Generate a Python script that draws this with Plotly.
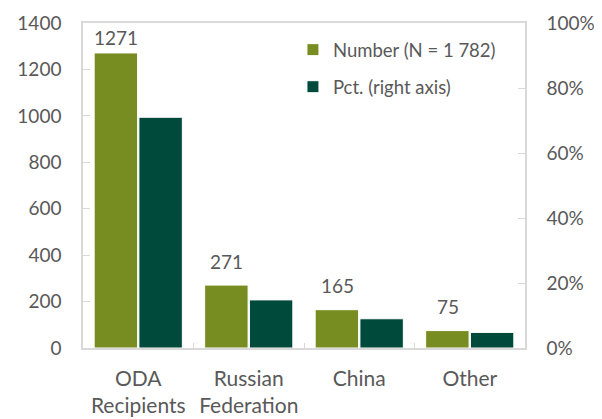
import plotly.graph_objects as go

categories = ["ODA<br>Recipients", "Russian<br>Federation", "China", "Other"]
number = [1271, 271, 165, 75]
pct = [0.71, 0.148, 0.09, 0.048]
number_labels = ["1271", "271", "165", "75"]
label_shift = [15, 24, 24, 24]

OLIVE = "#778c21"
DARK = "#004a3b"
GRID = "#d9d9d9"
TXT = "#595959"
FONT = "Lato, Open Sans, sans-serif"

fig = go.Figure()
fig.add_trace(go.Bar(
    x=categories, y=number, name="Number (N = 1 782)",
    marker=dict(color=OLIVE, line=dict(color="white", width=1)),
    offsetgroup="1", legendgroup="a", yaxis="y",
))
fig.add_trace(go.Bar(
    x=categories, y=pct, name="Pct. (right axis)",
    marker=dict(color=DARK, line=dict(color="white", width=1)),
    offsetgroup="2", legendgroup="b", yaxis="y2",
))

for c, v, t, s in zip(categories, number, number_labels, label_shift):
    fig.add_annotation(x=c, y=v, xref="x", yref="y", text=t, showarrow=False,
                       xshift=-22, yshift=s, font=dict(size=19, color=TXT, family=FONT))

fig.update_layout(
    width=594, height=411,
    margin=dict(l=75, r=77, t=15, b=71, autoexpand=False),
    paper_bgcolor="white", plot_bgcolor="white",
    barmode="group", bargap=0.19, bargroupgap=0.03,
    font=dict(family=FONT, size=19, color=TXT),
    showlegend=True,
    legend=dict(x=0.475, y=0.975, xanchor="left", yanchor="top",
                font=dict(size=18.5, color=TXT, family=FONT),
                traceorder="grouped", tracegroupgap=10,
                bgcolor="rgba(0,0,0,0)", itemwidth=30),
    xaxis=dict(showline=True, linecolor=GRID, linewidth=1.5, mirror=True,
               ticks="inside", tickson="boundaries", ticklen=5, tickcolor=GRID,
               ticklabelstandoff=11,
               tickfont=dict(size=21, color=TXT), showgrid=False),
    yaxis=dict(range=[0, 1400], dtick=200, showline=True, linecolor=GRID, linewidth=1.5,
               ticks="inside", ticklen=7, tickcolor=GRID, showgrid=False, zeroline=False,
               ticklabelstandoff=16,
               tickfont=dict(size=19, color=TXT)),
    yaxis2=dict(range=[0, 1], dtick=0.2, tickformat=".0%", overlaying="y", side="right",
                showline=True, linecolor=GRID, linewidth=1.5, ticks="inside", ticklen=7,
                tickcolor=GRID, showgrid=False, zeroline=False,
                ticklabelstandoff=16,
                tickfont=dict(size=19, color=TXT)),
)

fig.write_html("out.html")
